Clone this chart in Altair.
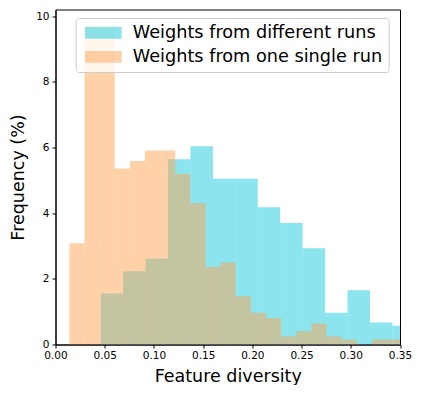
import altair as alt
import pandas as pd

# Bin edges (start of first bin and bin width) and heights (%)
cyan_start = 0.0459
cyan_width = 0.0228
cyan_heights = [1.55, 2.23, 2.62, 5.64, 6.04, 5.05, 5.05, 4.18, 3.70, 2.93,
                0.97, 1.65, 0.67, 0.57]

orange_start = 0.01406
orange_width = 0.01537
orange_heights = [3.08, 9.7, 9.7, 5.36, 5.59, 5.91, 5.91, 5.19, 4.30, 2.36,
                  2.50, 1.47, 0.97, 0.81, 0.24, 0.40, 0.64, 0.24, 0.15, 0.0,
                  0.15, 0.15]

series = ["Weights from different runs", "Weights from one single run"]
colors = ["#17C9DD", "#FFA353"]
x_ticks = [0.0, 0.05, 0.10, 0.15, 0.20, 0.25, 0.30, 0.35]
y_ticks = [0, 2, 4, 6, 8, 10]


def make_df(start, width, heights, name):
    return pd.DataFrame({
        "x0": [start + i * width for i in range(len(heights))],
        "x1": [start + (i + 1) * width for i in range(len(heights))],
        "y": heights,
        "series": name,
    })


df_c = make_df(cyan_start, cyan_width, cyan_heights, series[0])
df_o = make_df(orange_start, orange_width, orange_heights, series[1])

FONT = "DejaVu Sans"
# wide flat rectangle drawn around a small nominal symbol box
rect_path = "M-3.155,-1H3.155V1H-3.155Z"

xscale = alt.Scale(domain=[0, 0.35], nice=False, zero=False)
yscale = alt.Scale(domain=[0, 10.2], nice=False)
cscale = alt.Scale(domain=series, range=colors)

xaxis = alt.Axis(values=x_ticks, format=".2f", title="Feature diversity",
                 grid=False, tickSize=3.5, labelPadding=2.5, titlePadding=6,
                 labelFontSize=10.5, titleFontSize=17.5,
                 titleFontWeight="normal", labelFlush=False)
yaxis = alt.Axis(values=y_ticks, format="d", title="Frequency (%)",
                 grid=False, tickSize=3.5, labelPadding=3, titlePadding=8,
                 labelFontSize=10.5, titleFontSize=17.5,
                 titleFontWeight="normal")
legend = alt.Legend(title=None, orient="none", legendX=20.2, legendY=8.5,
                    symbolType=rect_path, symbolSize=134.6, symbolOffset=12.8,
                    symbolStrokeWidth=0, symbolOpacity=0.5,
                    labelFontSize=17.7, labelFont=FONT, labelColor="black",
                    labelOffset=20.5, labelLimit=400, padding=6, rowPadding=5,
                    fillColor="rgba(255,255,255,0.8)", strokeColor="#cccccc",
                    cornerRadius=3)


def layer(df):
    return alt.Chart(df).mark_rect(opacity=0.5, clip=True).encode(
        x=alt.X("x0:Q", scale=xscale, axis=xaxis),
        x2="x1:Q",
        y=alt.Y("y:Q", scale=yscale, axis=yaxis),
        y2=alt.datum(0),
        color=alt.Color("series:N", scale=cscale, legend=legend),
    )


chart = alt.layer(layer(df_c), layer(df_o)).properties(
    width=344.5, height=335,
    autosize=alt.AutoSizeParams(type="none"),
    padding={"left": 47.5, "top": 1.5, "right": 15, "bottom": 40},
).configure_view(
    stroke="black", strokeWidth=1
).configure_axis(
    domainColor="black", tickColor="black", labelColor="black",
    titleColor="black", labelFont=FONT, titleFont=FONT
)

chart.save("out.html", embed_options={"renderer": "svg", "actions": False})
